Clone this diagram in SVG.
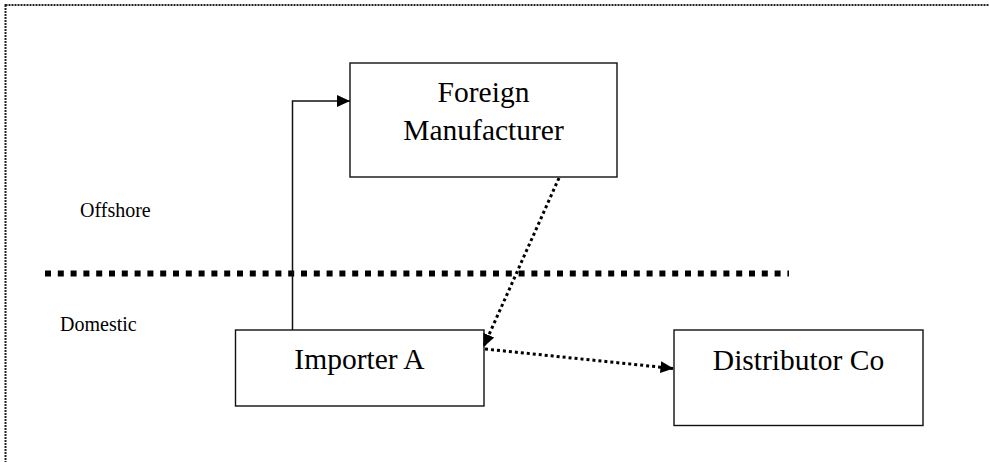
<svg xmlns="http://www.w3.org/2000/svg" width="989" height="462" viewBox="0 0 989 462">
  <style>
    .box { fill: #ffffff; stroke: #111111; stroke-width: 1.4; }
    .label { font-family: "Liberation Serif", "Times New Roman", serif; font-size: 29.5px; fill: #000000; text-anchor: middle; }
    .zone { font-family: "Liberation Serif", "Times New Roman", serif; font-size: 20px; fill: #000000; }
    .solid { fill: none; stroke: #111111; stroke-width: 1.5; }
    .dotted { fill: none; stroke: #000000; stroke-width: 3; stroke-dasharray: 3 3; }
  </style>
  <defs>
    <marker id="arrow" markerUnits="userSpaceOnUse" markerWidth="14" markerHeight="12" refX="13" refY="6" orient="auto">
      <path d="M0,0 L13,6 L0,12 z" fill="#000000"/>
    </marker>
  </defs>

  <!-- page frame -->
  <rect x="5.5" y="5" width="1000" height="480" fill="none" stroke="#222222" stroke-width="2" stroke-dasharray="2 1"/>

  <!-- offshore / domestic boundary -->
  <line x1="45" y1="273.5" x2="789" y2="273.5" stroke="#000000" stroke-width="6" stroke-dasharray="6 6.8"/>

  <text class="zone" x="80" y="217">Offshore</text>
  <text class="zone" x="60" y="331">Domestic</text>

  <g id="foreign-manufacturer">
    <rect class="box" x="350" y="63" width="267" height="114"/>
    <text class="label" x="483.5" y="102">Foreign</text>
    <text class="label" x="483.5" y="140">Manufacturer</text>
  </g>

  <g id="importer-a">
    <rect class="box" x="235.5" y="330" width="248.5" height="76"/>
    <text class="label" x="359.5" y="369">Importer A</text>
  </g>

  <g id="distributor-co">
    <rect class="box" x="674" y="330" width="249" height="95.5"/>
    <text class="label" x="798.5" y="370">Distributor Co</text>
  </g>

  <g id="connectors">
    <polyline class="solid" points="292.5,330 292.5,101 350,101" marker-end="url(#arrow)"/>
    <line class="dotted" x1="559" y1="178" x2="483.5" y2="347" marker-end="url(#arrow)"/>
    <line class="dotted" x1="485" y1="349" x2="673.5" y2="368.5" marker-end="url(#arrow)"/>
  </g>
</svg>
